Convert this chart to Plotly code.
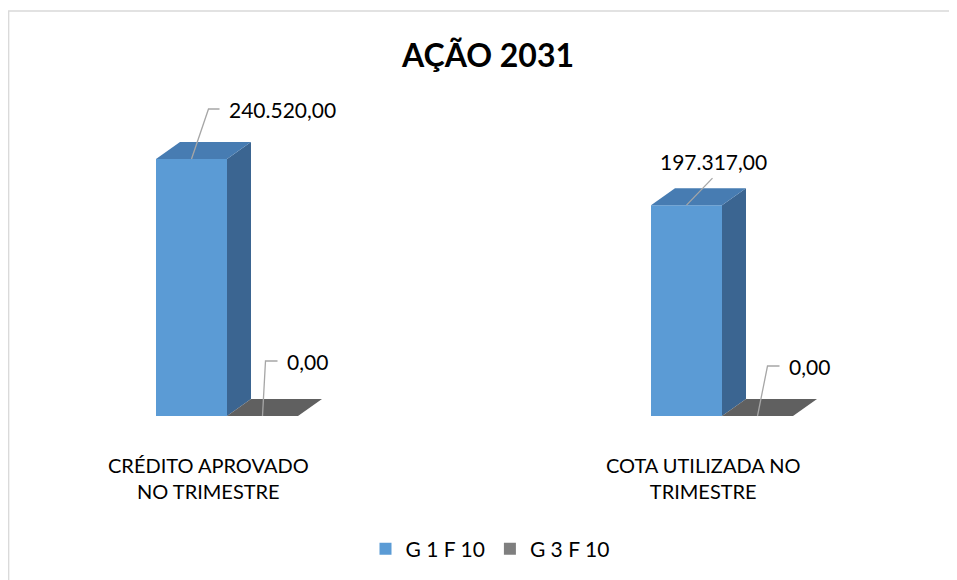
import plotly.graph_objects as go

# ---------------- data ----------------
categories = ["CRÉDITO APROVADO<br>NO TRIMESTRE", "COTA UTILIZADA NO<br>TRIMESTRE"]
series_names = ["G 1 F 10", "G 3 F 10"]
g1f10 = [240520.00, 197317.00]
g3f10 = [0.00, 0.00]
title_text = "AÇÃO 2031"

# ---------------- geometry / style ----------------
PAGE_OFF = 8                      # default page body margin
W, H = 957 - PAGE_OFF, 580 - PAGE_OFF
CAT_PX0 = 227 - PAGE_OFF          # pixel x of category 0 (front face join)
CAT_STEP = 495                    # pixels between categories
ZERO_PY = 416 - PAGE_OFF          # pixel y of value 0
PX_PER_VAL = 257 / 240520
BAR_PX = 71
DEPTH_DX, DEPTH_DY = 24, 17

def xu(px):  # pixel offset -> x units
    return px / CAT_STEP

def yu(px):  # pixel offset -> value units
    return px / PX_PER_VAL

x_range = [-CAT_PX0 / CAT_STEP, (W - CAT_PX0) / CAT_STEP]
y_range = [-(H - ZERO_PY) / PX_PER_VAL, ZERO_PY / PX_PER_VAL]

w = xu(BAR_PX)
dx, dy = xu(DEPTH_DX), yu(DEPTH_DY)

colors = {
    "G 1 F 10": dict(front="#5B9BD5", top="#477CB2", side="#3B6591"),
    "G 3 F 10": dict(front="#7F7F7F", top="#606060", side="#4F4F4F"),
}

FONT = "Lato, 'Open Sans', sans-serif"

def fmt_br(v):
    s = f"{v:,.2f}"
    return s.replace(",", "X").replace(".", ",").replace("X", ".")

fig = go.Figure()
xs = list(range(len(categories)))

series = [(series_names[0], g1f10, -w), (series_names[1], g3f10, 0.0)]

# front faces
for name, vals, off in series:
    c = colors[name]
    fig.add_trace(go.Bar(
        x=xs, y=vals, name=name, width=[w] * len(xs), offset=[off] * len(xs),
        marker=dict(color=c["front"], line=dict(width=0)),
        showlegend=True, hoverinfo="skip",
    ))

# side and top faces
for name, vals, off in series:
    c = colors[name]
    for xi, v in zip(xs, vals):
        l, r = xi + off, xi + off + w
        fig.add_trace(go.Scatter(
            x=[r, r, r + dx, r + dx, r], y=[0, v, v + dy, dy, 0],
            mode="lines", fill="toself", fillcolor=c["side"],
            line=dict(width=0, color=c["side"]), showlegend=False, hoverinfo="skip"))
        fig.add_trace(go.Scatter(
            x=[l, r, r + dx, l + dx, l], y=[v, v, v + dy, v + dy, v],
            mode="lines", fill="toself", fillcolor=c["top"],
            line=dict(width=0, color=c["top"]), showlegend=False, hoverinfo="skip"))

# data labels with leader lines: (elbow dx px, elbow dy px, horizontal px, text mode)
label_cfg = {
    (0, 0): (17, 50, 11, "right"),
    (0, 1): (3, 55, 12, "right"),
    (1, 0): (26, 27, 0, "above"),
    (1, 1): (10, 50, 12, "right"),
}
annotations = []
for si, (name, vals, off) in enumerate(series):
    for xi, v in zip(xs, vals):
        ex, ey, hl, mode = label_cfg[(xi, si)]
        sx = xi + off + w / 2
        px_pts = [sx, sx + xu(ex)]
        py_pts = [v, v + yu(ey)]
        if hl:
            px_pts.append(sx + xu(ex + hl))
            py_pts.append(v + yu(ey))
        fig.add_trace(go.Scatter(
            x=px_pts, y=py_pts, mode="lines",
            line=dict(color="#A6A6A6", width=1.3),
            showlegend=False, hoverinfo="skip"))
        if mode == "right":
            annotations.append(dict(
                x=px_pts[-1] + xu(7), y=py_pts[-1], text=fmt_br(v),
                xref="x", yref="y", showarrow=False, xanchor="left", yanchor="middle",
                font=dict(family=FONT, size=21, color="#000000")))
        else:
            annotations.append(dict(
                x=px_pts[-1] + xu(1), y=py_pts[-1] + yu(17), text=fmt_br(v),
                xref="x", yref="y", showarrow=False, xanchor="center", yanchor="middle",
                font=dict(family=FONT, size=21, color="#000000")))

# category labels
for xi, cat in zip(xs, categories):
    annotations.append(dict(
        x=xi + xu(-19), y=-yu(477.5 - 416), text=cat,
        xref="x", yref="y", showarrow=False, xanchor="center", yanchor="middle",
        align="center", font=dict(family=FONT, size=20, color="#000000")))

fig.update_layout(
    width=W, height=H,
    margin=dict(l=0, r=0, t=0, b=0),
    paper_bgcolor="white", plot_bgcolor="white",
    barmode="overlay",
    title=dict(text=f"<b>{title_text}</b>", x=(488 - PAGE_OFF) / W, xanchor="center",
               y=1 - (56 - PAGE_OFF) / H, yanchor="middle",
               font=dict(family=FONT, size=32, color="#000000")),
    xaxis=dict(range=x_range, visible=False, fixedrange=True),
    yaxis=dict(range=y_range, visible=False, fixedrange=True),
    legend=dict(orientation="h", x=(490 - PAGE_OFF) / W, xanchor="center",
                y=1 - (549 - PAGE_OFF) / H, yanchor="middle",
                font=dict(family=FONT, size=21, color="#000000"),
                itemwidth=30, traceorder="normal", bgcolor="rgba(0,0,0,0)"),
    annotations=annotations,
    shapes=[dict(type="rect", xref="paper", yref="paper",
                 x0=0.7 / W, x1=1.01, y0=-0.02, y1=1 - (11 - PAGE_OFF) / H,
                 line=dict(color="#D9D9D9", width=1.3), layer="below")],
    showlegend=True,
)

fig.write_html("out.html")
